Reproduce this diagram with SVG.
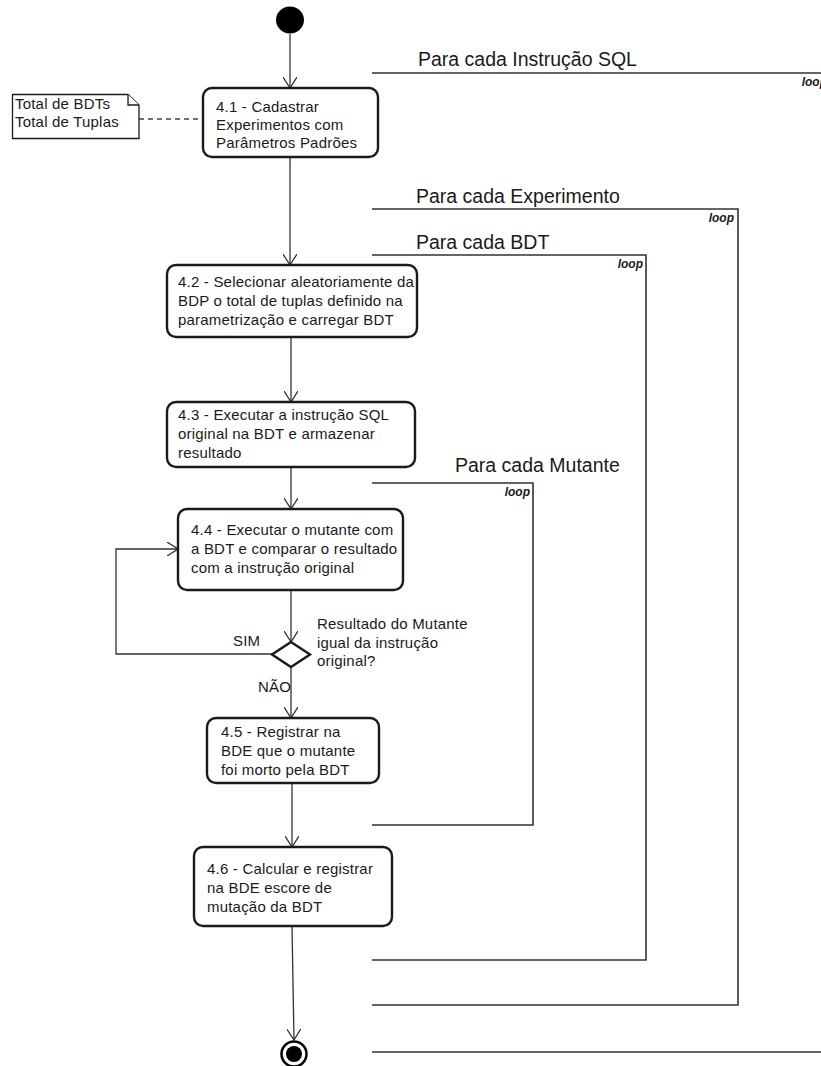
<svg xmlns="http://www.w3.org/2000/svg" width="821" height="1066" viewBox="0 0 821 1066">
  <style>
    .bg { fill: #ffffff; }
    .action { fill: #ffffff; stroke: #1a1a1a; stroke-width: 2.4; }
    .txt { font-family: "Liberation Sans", Arial, sans-serif; font-size: 15px; letter-spacing: 0.2px; fill: #1a1a1a; }
    .title { font-family: "Liberation Sans", Arial, sans-serif; font-size: 19.5px; fill: #1a1a1a; }
    .loop { font-family: "Liberation Sans", Arial, sans-serif; font-size: 12px; font-weight: bold; font-style: italic; fill: #1a1a1a; text-anchor: end; }
    .frame { fill: none; stroke: #333333; stroke-width: 1.6; }
    .flow { fill: none; stroke: #333333; stroke-width: 1.3; }
    .dash { fill: none; stroke: #444444; stroke-width: 1.3; stroke-dasharray: 5 4; }
    .note { fill: #ffffff; stroke: #1a1a1a; stroke-width: 1.3; }
  </style>
  <defs>
    <marker id="open" viewBox="0 0 12 14" refX="11" refY="7" markerWidth="12" markerHeight="14" markerUnits="userSpaceOnUse" orient="auto">
      <path d="M0,0 L11,7 L0,14" fill="none" stroke="#333333" stroke-width="1.3"/>
    </marker>
  </defs>

  <rect class="bg" x="0" y="0" width="821" height="1066"/>

  <!-- loop frames (open on the left side) -->
  <g id="frames">
    <g id="loop-sql">
      <path class="frame" d="M372,73 H832 V1052 H372"/>
      <text class="title" x="418" y="66">Para cada Instrução SQL</text>
      <text class="loop" x="827" y="86">loop</text>
    </g>
    <g id="loop-experimento">
      <path class="frame" d="M372,209 H738 V1005 H372"/>
      <text class="title" x="416" y="203">Para cada Experimento</text>
      <text class="loop" x="734" y="222">loop</text>
    </g>
    <g id="loop-bdt">
      <path class="frame" d="M372,255 H646 V960 H372"/>
      <text class="title" x="416" y="249">Para cada BDT</text>
      <text class="loop" x="643" y="268">loop</text>
    </g>
    <g id="loop-mutante">
      <path class="frame" d="M372,483 H533 V825 H372"/>
      <text class="title" x="455" y="472">Para cada Mutante</text>
      <text class="loop" x="530" y="496">loop</text>
    </g>
  </g>

  <!-- connectors -->
  <g id="connectors">
    <path class="flow" d="M290,34 V88" marker-end="url(#open)"/>
    <path class="flow" d="M290,157 V265" marker-end="url(#open)"/>
    <path class="flow" d="M291,337 V402" marker-end="url(#open)"/>
    <path class="flow" d="M291,467 V509" marker-end="url(#open)"/>
    <path class="flow" d="M291,590 V642" marker-end="url(#open)"/>
    <path class="flow" d="M272,654 H116 V549 H178" marker-end="url(#open)"/>
    <path class="flow" d="M291,667 V718" marker-end="url(#open)"/>
    <path class="flow" d="M292,783 V847" marker-end="url(#open)"/>
    <path class="flow" d="M292,926 L294,1040" marker-end="url(#open)"/>
    <path class="dash" d="M139,119 H203"/>
    <text class="txt" x="233" y="646">SIM</text>
    <text class="txt" x="258" y="692">NÃO</text>
  </g>

  <!-- start -->
  <g id="start">
    <ellipse cx="290" cy="20" rx="14" ry="13.5" fill="#000000"/>
  </g>

  <!-- note -->
  <g id="note">
    <path class="note" d="M12.5,94.5 H128 L139,105 V138.5 H12.5 Z"/>
    <path class="note" d="M128,94.5 V105 H139" fill="none"/>
    <text class="txt" x="15" y="109">Total de BDTs</text>
    <text class="txt" x="15" y="127">Total de Tuplas</text>
  </g>

  <g id="a41">
    <rect class="action" x="203" y="88" width="175" height="69" rx="9"/>
    <text class="txt" x="216" y="112">4.1 - Cadastrar</text>
    <text class="txt" x="216" y="130">Experimentos com</text>
    <text class="txt" x="216" y="148">Parâmetros Padrões</text>
  </g>

  <g id="a42">
    <rect class="action" x="167" y="265" width="250" height="72" rx="9"/>
    <text class="txt" x="178" y="287">4.2 - Selecionar aleatoriamente da</text>
    <text class="txt" x="178" y="306">BDP o total de tuplas definido na</text>
    <text class="txt" x="178" y="325">parametrização e carregar BDT</text>
  </g>

  <g id="a43">
    <rect class="action" x="167" y="402" width="248" height="65" rx="9"/>
    <text class="txt" x="178" y="420">4.3 - Executar a instrução SQL</text>
    <text class="txt" x="178" y="439">original na BDT e armazenar</text>
    <text class="txt" x="178" y="458">resultado</text>
  </g>

  <g id="a44">
    <rect class="action" x="178" y="509" width="225" height="81" rx="9"/>
    <text class="txt" x="191" y="535">4.4 - Executar o mutante com</text>
    <text class="txt" x="191" y="554">a BDT e comparar o resultado</text>
    <text class="txt" x="191" y="573">com a instrução original</text>
  </g>

  <g id="decision">
    <path d="M291,642 L310,654.5 L291,667 L272,654.5 Z" fill="#ffffff" stroke="#1a1a1a" stroke-width="2.4"/>
    <text class="txt" x="317" y="629">Resultado do Mutante</text>
    <text class="txt" x="317" y="648">igual da instrução</text>
    <text class="txt" x="317" y="666">original?</text>
  </g>

  <g id="a45">
    <rect class="action" x="207" y="718" width="172" height="65" rx="9"/>
    <text class="txt" x="221" y="737">4.5 - Registrar na</text>
    <text class="txt" x="221" y="756">BDE que o mutante</text>
    <text class="txt" x="221" y="775">foi morto pela BDT</text>
  </g>

  <g id="a46">
    <rect class="action" x="194" y="847" width="198" height="79" rx="9"/>
    <text class="txt" x="207" y="874">4.6 - Calcular e registrar</text>
    <text class="txt" x="207" y="893">na BDE escore de</text>
    <text class="txt" x="207" y="912">mutação da BDT</text>
  </g>

  <!-- end -->
  <g id="end">
    <circle cx="294" cy="1054" r="12.5" fill="#ffffff" stroke="#000000" stroke-width="2.5"/>
    <circle cx="294" cy="1054" r="8" fill="#000000"/>
  </g>
</svg>
